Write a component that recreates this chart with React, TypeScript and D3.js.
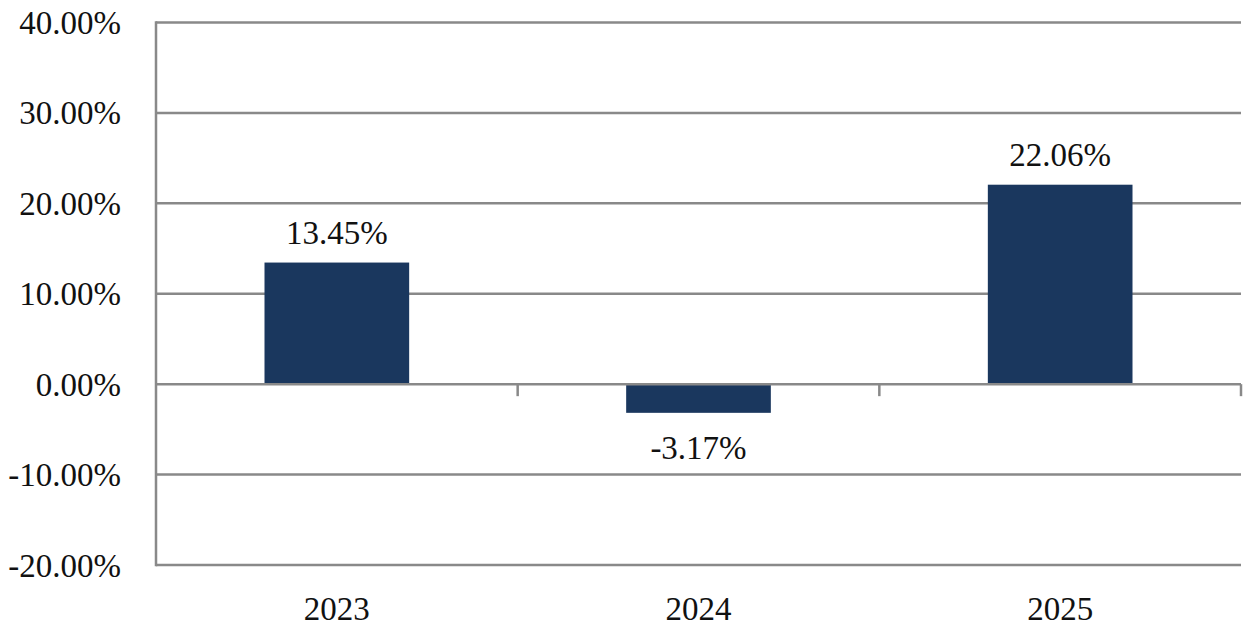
import React from 'react';
import * as d3 from 'd3';

const years = ['2023', '2024', '2025'];
const returns = [13.45, -3.17, 22.06];
const yTicks = [-20, -10, 0, 10, 20, 30, 40];

const W = 1248;
const H = 632;
const margin = { top: 22.5, right: 7, bottom: 67, left: 156 };
const font = "'Liberation Serif', 'Times New Roman', serif";
const gridColor = '#898989';
const barColor = '#1a375e';
const textStyle = { fontFamily: font, fontSize: 33, fill: '#111' };

const App: React.FC = () => {
  const x = d3.scaleBand<string>()
    .domain(years)
    .range([margin.left, W - margin.right])
    .paddingInner(0.6)
    .paddingOuter(0.3);

  const y = d3.scaleLinear()
    .domain([-20, 40])
    .range([H - margin.bottom, margin.top]);

  const fmt = (v: number) => `${v.toFixed(2)}%`;
  const catWidth = (W - margin.right - margin.left) / years.length;
  const catEdges = years.map((_, i) => margin.left + catWidth * (i + 1));

  return (
    <svg width={W} height={H} style={{ position: 'absolute', left: 0, top: 0, background: '#fff' }}>
      {/* gridlines */}
      {yTicks.filter(t => t !== 0).map(t => (
        <line key={t} x1={margin.left} x2={W - margin.right} y1={y(t)} y2={y(t)}
          stroke={gridColor} strokeWidth={2.5} />
      ))}
      {/* y labels */}
      {yTicks.map(t => (
        <text key={'l' + t} x={121} y={y(t)} dy="0.35em" textAnchor="end" style={textStyle}>{fmt(t)}</text>
      ))}
      {/* bars */}
      {years.map((yr, i) => {
        const v = returns[i];
        const y0 = y(0);
        const y1 = y(v);
        return (
          <rect key={yr} x={x(yr)} width={x.bandwidth()}
            y={Math.min(y0, y1)} height={Math.abs(y1 - y0)} fill={barColor} />
        );
      })}
      {/* zero axis with category ticks */}
      <line x1={margin.left} x2={W - margin.right} y1={y(0)} y2={y(0)} stroke={gridColor} strokeWidth={2.5} />
      {catEdges.map((cx, i) => (
        <line key={'t' + i} x1={cx} x2={cx} y1={y(0)} y2={y(0) + 12} stroke={gridColor} strokeWidth={2.5} />
      ))}
      {/* left axis */}
      <line x1={margin.left} x2={margin.left} y1={margin.top - 1.25} y2={H - margin.bottom + 1.25}
        stroke={gridColor} strokeWidth={2.5} />
      {/* value labels */}
      {years.map((yr, i) => {
        const v = returns[i];
        const cx = (x(yr) as number) + x.bandwidth() / 2;
        const ly = v >= 0 ? y(v) - 19 : y(v) + 46;
        return (
          <text key={'v' + yr} x={cx} y={ly} textAnchor="middle" style={textStyle}>{fmt(v)}</text>
        );
      })}
      {/* category labels */}
      {years.map(yr => (
        <text key={'c' + yr} x={(x(yr) as number) + x.bandwidth() / 2} y={620} textAnchor="middle"
          style={textStyle}>{yr}</text>
      ))}
    </svg>
  );
};

export default App;
